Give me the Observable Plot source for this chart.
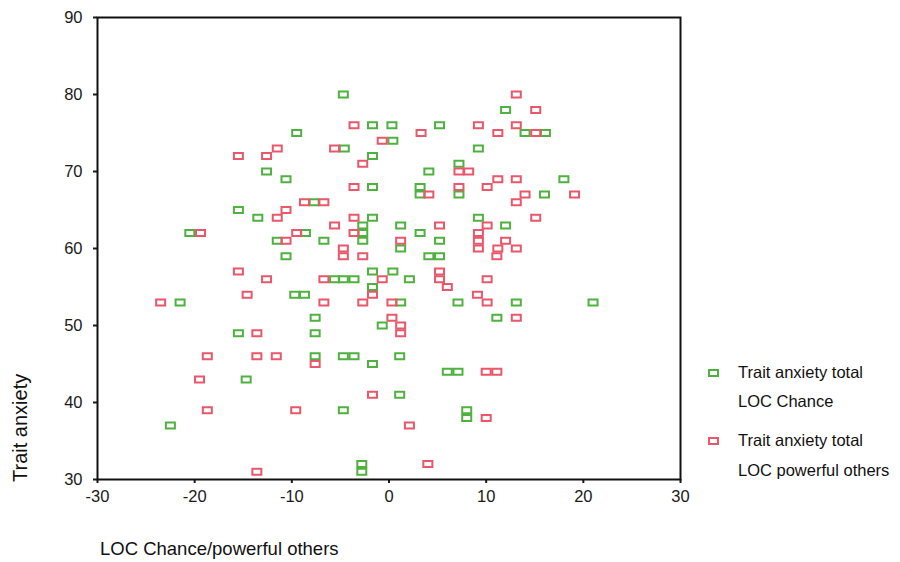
<!DOCTYPE html>
<html>
<head>
<meta charset="utf-8">
<script src="https://cdn.jsdelivr.net/npm/d3@7"></script>
<script src="https://cdn.jsdelivr.net/npm/@observablehq/plot@0.6"></script>
<style>
  body { margin: 0; background: #fff; font-family: "Liberation Sans", Arial, sans-serif; }
  #wrap { position: relative; width: 900px; height: 562px; }
  .lbl { position: absolute; color: #111; white-space: nowrap; line-height: 1.15; }
</style>
</head>
<body>
<div id="wrap"></div>
<script>
// LOC Chance (x) vs Trait anxiety total (y)
const chanceX = [-4.7,-1.7,0.3,-9.5,0.4,-4.6,-1.7,-12.6,-10.6,-1.7,-7.7,-15.5,-13.5,-1.7,-2.7,-2.7,-2.7,-20.5,-8.6,-11.5,-6.7,
  12.0,5.2,14.0,16.1,9.2,7.2,4.1,18.0,3.2,3.2,7.2,16.0,9.2,12.0,1.2,3.2,1.2,5.2,
  4.1,5.2,0.4,2.1,1.2,7.1,13.1,21.0,-0.7,11.1,1.1,6.0,7.1,1.1,8.0,8.0,
  -10.6,-5.6,-4.7,-3.6,-1.7,-1.7,-9.7,-8.7,-21.5,-7.6,-15.5,-7.6,-7.6,-4.7,-3.6,-1.7,-14.7,-4.7,-22.5,-2.8,-2.8];
const chanceY = [80,76,76,75,74,73,72,70,69,68,66,65,64,64,63,62,61,62,62,61,61,
  78,76,75,75,73,71,70,69,68,67,67,67,64,63,63,62,60,61,
  59,59,57,56,53,53,53,53,50,51,46,44,44,41,39,38,
  59,56,56,56,57,55,54,54,53,51,49,49,46,46,46,45,43,39,37,32,31];
// LOC powerful others (x) vs Trait anxiety total (y)
const othersX = [-3.6,-0.7,-15.5,-12.6,-11.5,-5.6,-2.7,-3.6,-8.7,-6.7,-10.6,-11.5,-5.6,-3.6,-3.6,-19.4,-9.5,-10.6,-4.7,
  13.1,15.1,3.3,9.2,11.2,13.1,15.1,7.2,8.2,11.2,13.1,10.1,7.2,4.1,14.0,19.1,13.1,15.1,10.1,5.2,1.2,9.2,9.2,9.2,12.0,11.2,13.1,
  11.1,-0.7,5.2,5.2,6.0,10.1,0.3,9.1,10.1,0.3,1.2,1.2,13.1,10.0,11.1,10.0,2.1,4.0,
  -4.7,-2.7,-15.5,-12.6,-6.7,-1.7,-14.6,-23.5,-6.7,-2.7,-13.6,-18.7,-13.6,-11.6,-7.6,-19.5,-1.7,-18.7,-9.6,-13.6];
const othersY = [76,74,72,72,73,73,71,68,66,66,65,64,63,64,62,62,62,61,60,
  80,78,75,76,75,76,75,70,70,69,69,68,68,67,67,67,66,64,63,63,61,62,61,60,61,60,60,
  59,56,57,56,55,56,53,54,53,51,50,49,51,44,44,38,37,32,
  59,59,57,56,56,54,54,53,53,53,49,46,46,46,45,43,41,39,39,31];

const seriesNames = ["Trait anxiety total LOC Chance", "Trait anxiety total LOC powerful others"];
const xTicks = [-30, -20, -10, 0, 10, 20, 30];
const yTicks = [30, 40, 50, 60, 70, 80, 90];

const green = "#4fb13f";
const red = "#e9576a";

const data = [
  ...chanceX.map((x, i) => ({x, y: chanceY[i], s: seriesNames[0]})),
  ...othersX.map((x, i) => ({x, y: othersY[i], s: seriesNames[1]}))
];

const rectSymbol = { draw(ctx) { ctx.moveTo(-4.5, -3); ctx.lineTo(4.5, -3); ctx.lineTo(4.5, 3); ctx.lineTo(-4.5, 3); ctx.closePath(); } };

const chart = Plot.plot({
  width: 900,
  height: 562,
  marginLeft: 97,
  marginRight: 220,
  marginTop: 17,
  marginBottom: 83,
  style: { fontSize: "16.5px", fontFamily: "'Liberation Sans', Arial, sans-serif", color: "#1a1a1a", background: "transparent" },
  x: { domain: [-30, 30], ticks: xTicks, tickFormat: d => String(d), tickSize: 4, tickPadding: 7, label: null },
  y: { domain: [30, 90], ticks: yTicks, tickFormat: d => String(d), tickSize: 4, tickPadding: 11, label: null },
  color: { domain: seriesNames, range: [green, red] },
  marks: [
    Plot.frame({ stroke: "#111", strokeWidth: 2 }),
    Plot.dot(data, { x: "x", y: "y", stroke: "s", symbol: rectSymbol, r: 4, strokeWidth: 2, fill: "none" })
  ]
});
d3.select(chart).selectAll("[aria-label$='tick'] path, [aria-label$='tick'] line").attr("stroke-width", 2);
const wrap = document.getElementById("wrap");
wrap.appendChild(chart);

function label(text, css) {
  const d = document.createElement("div");
  d.className = "lbl";
  d.textContent = text;
  Object.assign(d.style, css);
  wrap.appendChild(d);
  return d;
}
// axis titles
label("LOC Chance/powerful others", { left: "100px", top: "538px", fontSize: "18.5px" });
label("Trait anxiety", { left: "9px", top: "482px", fontSize: "20px", transform: "rotate(-90deg)", transformOrigin: "0 0" });

// legend
function swatch(color, top) {
  const s = document.createElement("div");
  Object.assign(s.style, { position: "absolute", left: "708px", top: top + "px", width: "7px", height: "4px", border: "2px solid " + color });
  wrap.appendChild(s);
}
swatch(green, 369);
label("Trait anxiety total", { left: "738px", top: "363px", fontSize: "16.5px" });
label("LOC Chance", { left: "738px", top: "392px", fontSize: "16.5px" });
swatch(red, 437);
label("Trait anxiety total", { left: "738px", top: "431px", fontSize: "16.5px" });
label("LOC powerful others", { left: "738px", top: "461px", fontSize: "16.5px" });
</script>
</body>
</html>
